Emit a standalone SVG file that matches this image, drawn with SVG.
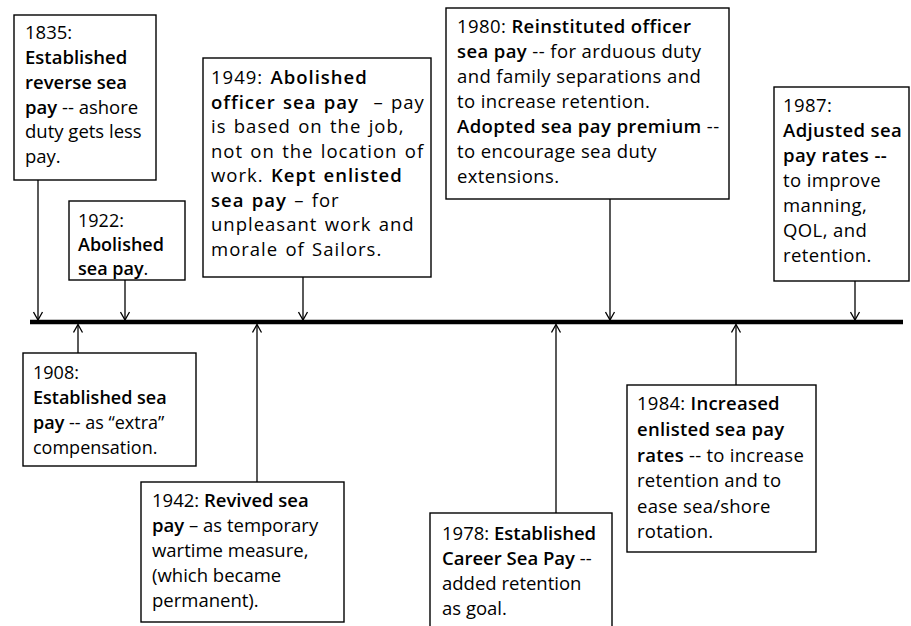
<svg xmlns="http://www.w3.org/2000/svg" width="911" height="626" viewBox="0 0 911 626">
<style>
.box{fill:#fff;stroke:#000;stroke-width:1.4}
.t{font-family:"Open Sans","Noto Sans","DejaVu Sans",sans-serif;fill:#000}
.b{font-weight:600}
.arr{stroke:#000;stroke-width:1.3;fill:none}
.axis{stroke:#000;stroke-width:4.5}
.s18{font-size:18px}
.s185{font-size:18.5px}
.wide{font-size:18.5px;letter-spacing:1px;word-spacing:1.5px}
.w1{letter-spacing:0.4px}
.w2{letter-spacing:0.25px}
</style>
<defs>
<marker id="ah" markerWidth="10" markerHeight="11" refX="9" refY="5.5" orient="auto" markerUnits="userSpaceOnUse">
<path d="M1,1 L9,5.5 L1,10" fill="none" stroke="#000" stroke-width="1.3"/>
</marker>
</defs>
<rect width="911" height="626" fill="#fff"/>
<g id="timeline"><line class="axis" x1="30" y1="322" x2="903" y2="322"/></g>
<g id="connectors">
<line class="arr" x1="38" y1="180" x2="38" y2="320" marker-end="url(#ah)"/>
<line class="arr" x1="125" y1="280" x2="125" y2="320" marker-end="url(#ah)"/>
<line class="arr" x1="303" y1="277" x2="303" y2="320" marker-end="url(#ah)"/>
<line class="arr" x1="610" y1="199" x2="610" y2="320" marker-end="url(#ah)"/>
<line class="arr" x1="855" y1="281" x2="855" y2="320" marker-end="url(#ah)"/>
<line class="arr" x1="78" y1="353" x2="78" y2="324.5" marker-end="url(#ah)"/>
<line class="arr" x1="257" y1="482" x2="257" y2="324.5" marker-end="url(#ah)"/>
<line class="arr" x1="556" y1="513" x2="556" y2="324.5" marker-end="url(#ah)"/>
<line class="arr" x1="736" y1="385" x2="736" y2="324.5" marker-end="url(#ah)"/>
</g>
<g id="n1835" class="t s185">
<rect class="box" x="14" y="15" width="142" height="165"/>
<text x="25" y="39">1835:</text>
<text x="25" y="64" class="b">Established</text>
<text x="25" y="89" class="b">reverse sea</text>
<text x="25" y="113.5"><tspan class="b">pay</tspan> -- ashore</text>
<text x="25" y="138">duty gets less</text>
<text x="25" y="163">pay.</text>
</g>
<g id="n1922" class="t s18">
<rect class="box" x="69" y="201" width="116" height="79"/>
<text x="78" y="227">1922:</text>
<text x="78" y="251" class="b">Abolished</text>
<text x="78" y="275"><tspan class="b">sea pay</tspan>.</text>
</g>
<g id="n1949" class="t wide">
<rect class="box" x="203" y="58" width="228" height="219"/>
<text x="211" y="84">1949: <tspan class="b">Abolished</tspan></text>
<text x="211" y="108.5"><tspan class="b">officer sea pay</tspan>&#160; – pay</text>
<text x="211" y="133">is based on the job,</text>
<text x="211" y="157.5">not on the location of</text>
<text x="211" y="182">work. <tspan class="b">Kept enlisted</tspan></text>
<text x="211" y="206.5"><tspan class="b">sea pay</tspan> – for</text>
<text x="211" y="231">unpleasant work and</text>
<text x="211" y="255.5">morale of Sailors.</text>
</g>
<g id="n1980" class="t s185 w1">
<rect class="box" x="446" y="8" width="283" height="191"/>
<text x="457" y="33">1980: <tspan class="b">Reinstituted officer</tspan></text>
<text x="457" y="58"><tspan class="b">sea pay</tspan> -- for arduous duty</text>
<text x="457" y="83">and family separations and</text>
<text x="457" y="108">to increase retention.</text>
<text x="457" y="133"><tspan class="b">Adopted sea pay premium</tspan> --</text>
<text x="457" y="158">to encourage sea duty</text>
<text x="457" y="183">extensions.</text>
</g>
<g id="n1987" class="t s185 w1">
<rect class="box" x="774" y="87" width="135" height="194"/>
<text x="783" y="112">1987:</text>
<text x="783" y="137" class="b">Adjusted sea</text>
<text x="783" y="162" class="b">pay rates --</text>
<text x="783" y="187">to improve</text>
<text x="783" y="212">manning,</text>
<text x="783" y="237">QOL, and</text>
<text x="783" y="262">retention.</text>
</g>
<g id="n1908" class="t s18">
<rect class="box" x="23" y="353" width="173" height="113"/>
<text x="33" y="379">1908:</text>
<text x="33" y="404" class="b">Established sea</text>
<text x="33" y="429"><tspan class="b">pay</tspan> -- as “extra”</text>
<text x="33" y="454">compensation.</text>
</g>
<g id="n1942" class="t s185">
<rect class="box" x="141" y="482" width="203" height="140"/>
<text x="152" y="507">1942: <tspan class="b">Revived sea</tspan></text>
<text x="152" y="532"><tspan class="b">pay</tspan> – as temporary</text>
<text x="152" y="557">wartime measure,</text>
<text x="152" y="582">(which became</text>
<text x="152" y="607">permanent).</text>
</g>
<g id="n1978" class="t s185">
<rect class="box" x="430" y="513" width="182" height="120"/>
<text x="442" y="540">1978: <tspan class="b">Established</tspan></text>
<text x="442" y="565"><tspan class="b">Career Sea Pay</tspan> --</text>
<text x="442" y="590">added retention</text>
<text x="442" y="615">as goal.</text>
</g>
<g id="n1984" class="t s185 w2">
<rect class="box" x="627" y="385" width="189" height="167"/>
<text x="637" y="410">1984: <tspan class="b">Increased</tspan></text>
<text x="637" y="436" class="b">enlisted sea pay</text>
<text x="637" y="461.5"><tspan class="b">rates</tspan> -- to increase</text>
<text x="637" y="487">retention and to</text>
<text x="637" y="512.5">ease sea/shore</text>
<text x="637" y="538">rotation.</text>
</g>
</svg>
